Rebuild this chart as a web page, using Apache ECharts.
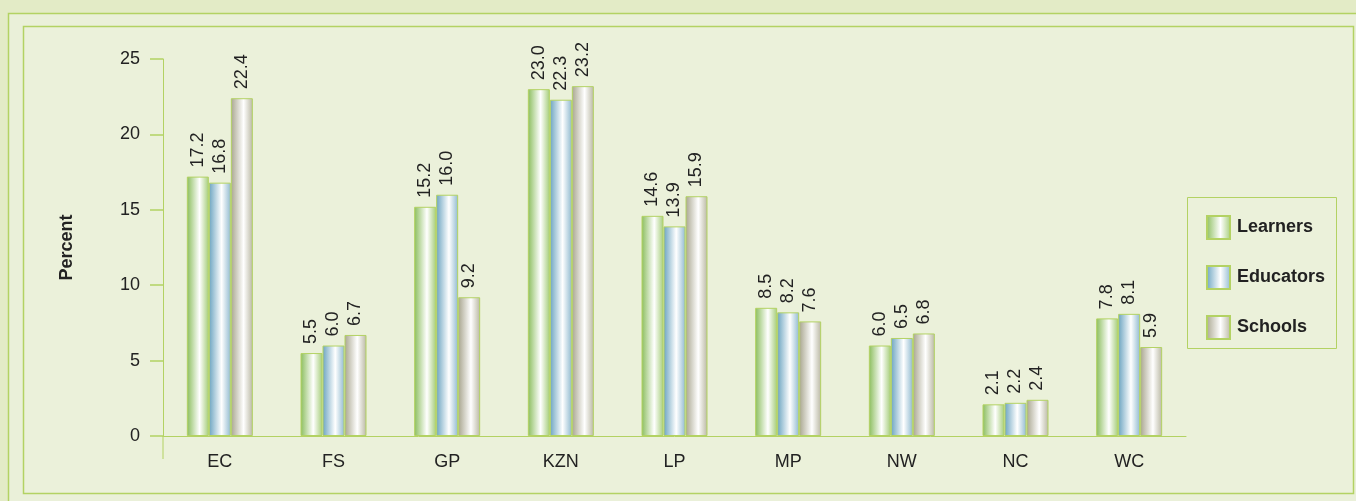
<!DOCTYPE html>
<html>
<head>
<meta charset="utf-8">
<script src="https://cdn.jsdelivr.net/npm/echarts@6/dist/echarts.min.js"></script>
<style>
    html, body { margin: 0; padding: 0; background: #e3ebc6; }
    #chart { width: 1356px; height: 501px; }
</style>
</head>
<body>
<div id="chart"></div>
<script>
var provinces = ['EC', 'FS', 'GP', 'KZN', 'LP', 'MP', 'NW', 'NC', 'WC'];
var learners = [17.2, 5.5, 15.2, 23.0, 14.6, 8.5, 6.0, 2.1, 7.8];
var educators = [16.8, 6.0, 16.0, 22.3, 13.9, 8.2, 6.5, 2.2, 8.1];
var schools = [22.4, 6.7, 9.2, 23.2, 15.9, 7.6, 6.8, 2.4, 5.9];
var yTicks = [0, 5, 10, 15, 20, 25];

var lineColor = '#b3d263';
var textColor = '#222';
var fontFam = 'Liberation Sans, Arial, sans-serif';

// cylinder look: dark edge -> white -> lighter edge
function barFill(dark, light) {
    return new echarts.graphic.LinearGradient(0, 0, 1, 0, [
        { offset: 0, color: dark },
        { offset: 0.58, color: '#ffffff' },
        { offset: 1, color: light }
    ]);
}

function makeSeries(name, values, dark, light) {
    return {
        name: name,
        type: 'bar',
        data: values,
        barWidth: 22,
        barGap: '0%',
        itemStyle: {
            color: barFill(dark, light),
            borderColor: lineColor,
            borderWidth: 1
        },
        label: {
            show: true,
            position: 'top',
            rotate: 90,
            align: 'left',
            verticalAlign: 'middle',
            distance: 9,
            color: textColor,
            fontSize: 18,
            fontFamily: fontFam,
            formatter: function (p) { return p.value.toFixed(1); }
        }
    };
}

var myChart = echarts.init(document.getElementById('chart'));

var option = {
    backgroundColor: 'transparent',
    animation: false,
    textStyle: { fontFamily: fontFam },
    graphic: [
        {
            type: 'rect', z: -10,
            shape: { x: 8.5, y: 13.5, width: 1360, height: 500 },
            style: { fill: '#eaf0d9', stroke: lineColor, lineWidth: 1.5 }
        },
        {
            type: 'rect', z: -9,
            shape: { x: 23.5, y: 26.5, width: 1330, height: 467 },
            style: { fill: '#ebf1da', stroke: lineColor, lineWidth: 1.5 }
        },
        {
            type: 'rect', z: -8,
            shape: { x: 1187.5, y: 197.5, width: 149, height: 151 },
            style: { fill: 'transparent', stroke: lineColor, lineWidth: 1 }
        },
        {
            type: 'line', z: 5,
            shape: { x1: 163, y1: 436, x2: 163, y2: 459 },
            style: { stroke: lineColor, lineWidth: 1 }
        }
    ],
    grid: {
        left: 163,
        right: 170,
        top: 59,
        bottom: 65,
        containLabel: false
    },
    legend: {
        orient: 'vertical',
        left: 1201,
        top: 210,
        icon: 'rect',
        itemWidth: 23,
        itemHeight: 23,
        itemGap: 25,
        data: ['Learners', 'Educators', 'Schools'],
        textStyle: { fontSize: 18, fontWeight: 'bold', color: textColor, padding: [0, 0, 0, 2] }
    },
    xAxis: {
        type: 'category',
        data: provinces,
        axisLine: { lineStyle: { color: lineColor, width: 1 } },
        axisTick: { show: false },
        axisLabel: { color: textColor, fontSize: 18, margin: 17 }
    },
    yAxis: {
        type: 'value',
        min: 0,
        max: 25,
        interval: 5,
        name: 'Percent',
        nameLocation: 'middle',
        nameGap: 87,
        nameTextStyle: { fontSize: 18, fontWeight: 'bold', color: textColor },
        axisLine: { show: true, lineStyle: { color: lineColor, width: 1 } },
        axisTick: { show: true, length: 13, lineStyle: { color: lineColor, width: 1.5 } },
        axisLabel: {
            color: textColor,
            fontSize: 18,
            margin: 23,
            formatter: function (v) { return yTicks.indexOf(v) >= 0 ? String(v) : ''; }
        },
        splitLine: { show: false }
    },
    series: [
        makeSeries('Learners', learners, '#8abd5c', '#a4cc78'),
        makeSeries('Educators', educators, '#6aa3c0', '#8fb9cf'),
        makeSeries('Schools', schools, '#a8a58e', '#b9b7a2')
    ]
};

myChart.setOption(option);
</script>
</body>
</html>
